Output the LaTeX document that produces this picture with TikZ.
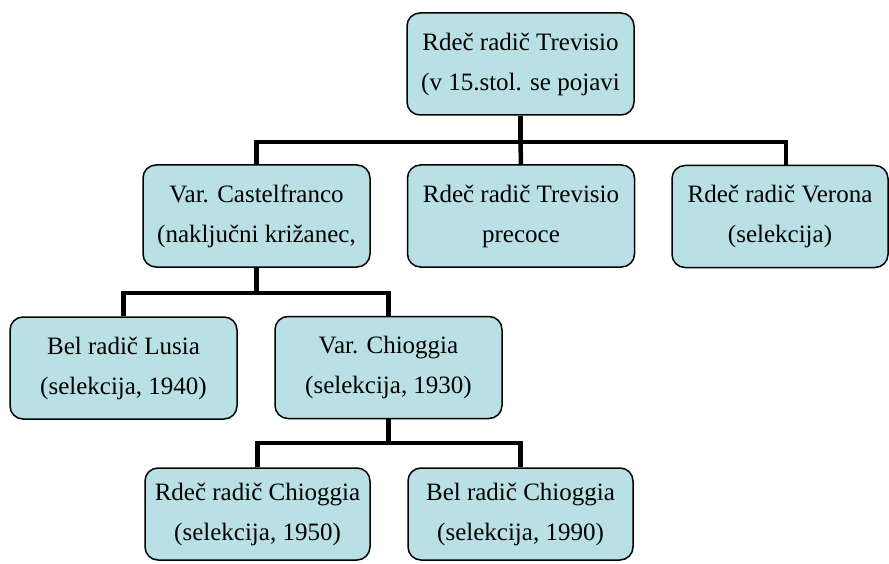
\documentclass[tikz,border=0pt]{standalone}
\usepackage{fontspec}
\setmainfont{Liberation Serif}
\usepackage{xcolor}
\definecolor{boxfill}{RGB}{185,224,228}

\tikzset{
	card/.style={draw=black, fill=boxfill, line width=1.5pt, rounded corners=13pt,
		minimum width=227pt, minimum height=102pt, align=center, inner sep=0pt,
		font=\fontsize{25}{40}\selectfont},
	bus/.style={draw=black, line width=4.5pt, line join=miter}
}

\begin{document}
\begin{tikzpicture}[x=1pt, y=-1pt]
		\useasboundingbox (0, 0) rectangle (889, 564);

		% boxes
		\node[card] (top) at (520.5, 64) {Rdeč radič Trevisio\\(v 15.stol. se pojavi};
		\node[card] (castel) at (256.5, 216) {Var. Castelfranco\\(naključni križanec,};
		\node[card] (precoce) at (521, 216) {Rdeč radič Trevisio\\precoce};
		\node[card, minimum width=216pt] (verona) at (780, 216.5) {Rdeč radič Verona\\(selekcija)};
		\node[card] (lusia) at (123.5, 368) {Bel radič Lusia\\(selekcija, 1940)};
		\node[card] (chioggia) at (388.5, 367.5) {Var. Chioggia\\(selekcija, 1930)};
		\node[card, minimum width=225pt, minimum height=92pt] (rchiog) at (257.5, 514) {Rdeč radič Chioggia\\(selekcija, 1950)};
		\node[card, minimum width=225pt, minimum height=92pt] (bchiog) at (520.5, 514) {Bel radič Chioggia\\(selekcija, 1990)};

		% first level
		\coordinate (j1) at (520.5, 142);
		\draw[bus] (top.south) -- (j1);
		\draw[bus] (castel.north) |- (j1) -| ([xshift=6pt]verona.north);
		\draw[bus] (j1) -- (precoce.north);

		% second level
		\coordinate (j2) at (256.5, 293);
		\draw[bus] (castel.south) -- (j2);
		\draw[bus] (lusia.north) |- (j2) -| (chioggia.north);

		% third level
		\coordinate (j3) at (388.5, 443);
		\draw[bus] (chioggia.south) -- (j3);
		\draw[bus] (rchiog.north) |- (j3) -| (bchiog.north);
	\end{tikzpicture}
\end{document}
